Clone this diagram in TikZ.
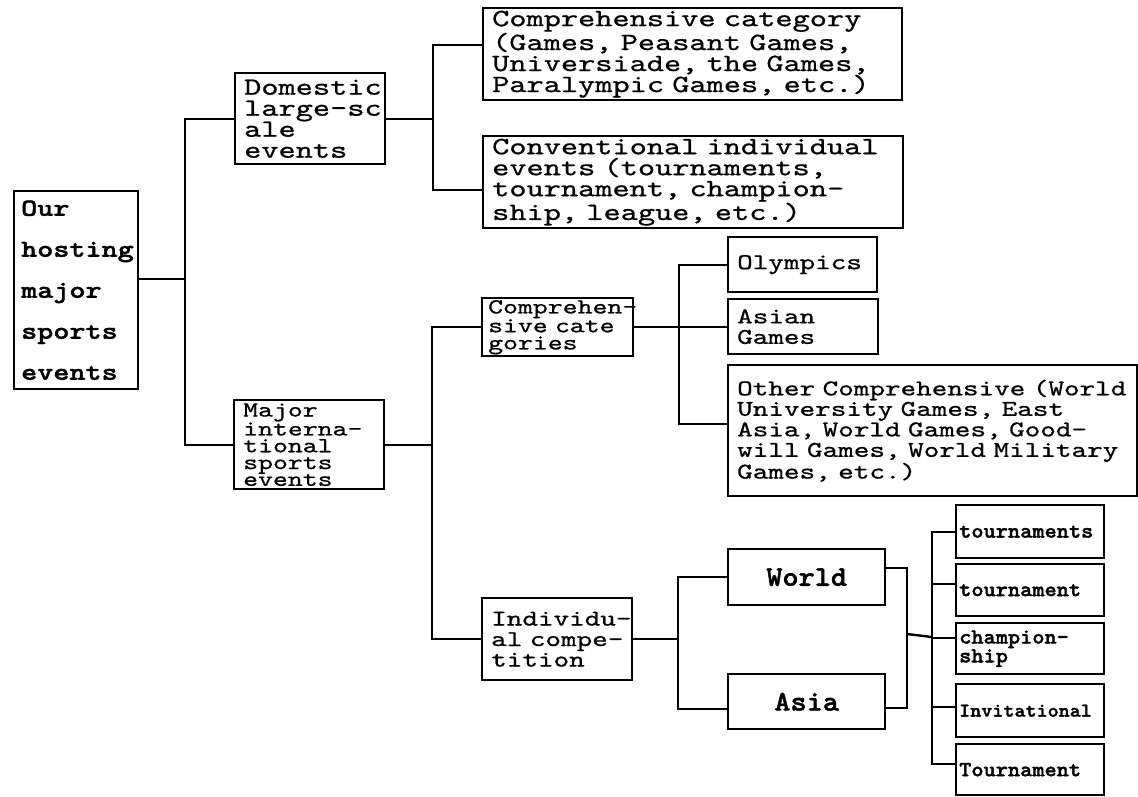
\documentclass[tikz,border=0pt]{standalone}
\usepackage{fontspec}
\newfontfamily\monoA[FakeStretch=1.32, FakeBold=0.8, BoldFont=lmmonolt10-bold.otf, BoldFeatures={FakeStretch=1.25, FakeBold=1.6}]{lmmono10-regular.otf}
\newfontfamily\monoB[FakeStretch=1.12, FakeBold=0.8, BoldFont=lmmonolt10-bold.otf, BoldFeatures={FakeStretch=1.08, FakeBold=1.6}]{lmmono10-regular.otf}
\protected\def\fixsp{\fontdimen2\font=\fontcharwd\font`a\fontdimen3\font=0pt\fontdimen4\font=0pt\relax}
\begin{document}
\lineskiplimit=-100pt
\begin{tikzpicture}[x=1pt,y=-1pt,
  bx/.style={draw, line width=2.4pt, anchor=north west, align=left, inner ysep=0pt, inner xsep=9pt},
  conn/.style={line width=2.4pt},
  fBig/.style={font=\monoA\fontsize{24.8}{21}\selectfont\fixsp},
  fRoot/.style={font=\monoA\bfseries\fontsize{24.5}{41}\selectfont\fixsp},
  fMid/.style={font=\monoA\fontsize{21.5}{17.2}\selectfont\fixsp},
  fMaj/.style={font=\monoA\fontsize{21.5}{16.8}\selectfont\fixsp},
  fOth/.style={font=\monoA\fontsize{22.5}{20.5}\selectfont\fixsp},
  fWA/.style={font=\monoB\bfseries\fontsize{28.5}{30}\selectfont\fixsp},
  fT/.style={font=\monoB\bfseries\fontsize{21.5}{14.5}\selectfont\fixsp},
  leaf/.style={bx, fT, inner xsep=3pt, minimum width=148, text width=142}
]
\useasboundingbox (0,0) rectangle (1138,796);

% level 0
\node[bx, fRoot, inner xsep=7pt, minimum width=124, minimum height=198, text width=110] (root) at (13,190)
  {\mbox{Our}\\\mbox{hosting}\\\mbox{major}\\\mbox{sports}\\\mbox{events}};

% level 1
\node[bx, fBig, minimum width=150, minimum height=91, text width=132] (dom) at (234,72)
  {\mbox{Domestic}\\\mbox{large-sc}\\\mbox{ale}\\\mbox{events}};
\node[bx, fMaj, minimum width=150, minimum height=89, text width=132] (major) at (233,399)
  {\mbox{Major}\\\mbox{interna-}\\\mbox{tional}\\\mbox{sports}\\\mbox{events}};

% level 2 (domestic)
\node[bx, fBig, minimum width=419, minimum height=92, text width=401] (cc) at (482,7)
  {\mbox{Comprehensive category}\\\mbox{(Games, Peasant Games,}\\\mbox{Universiade, the Games,}\\\mbox{Paralympic Games, etc.)}};
\node[bx, fBig, minimum width=420, minimum height=92, text width=402] (conv) at (482,135)
  {\mbox{Conventional individual}\\\mbox{events (tournaments,}\\\mbox{tournament, champion-}\\\mbox{ship, league, etc.)}};

% level 2 (international)
\node[bx, fMid, minimum width=151, minimum height=58, text width=139, inner xsep=6pt] (compcat) at (481,297)
  {\mbox{Comprehen-}\\\mbox{sive cate}\\\mbox{gories}};
\node[bx, fOth, minimum width=150, minimum height=82, text width=132] (indiv) at (481,597)
  {\mbox{Individu-}\\\mbox{al compe-}\\\mbox{tition}};

% level 3 (comprehensive)
\node[bx, fOth, minimum width=149, minimum height=55, text width=131] (oly) at (727,236) {\mbox{Olympics}};
\node[bx, fOth, minimum width=150, minimum height=55, text width=132] (ag) at (727,298) {\mbox{Asian}\\\mbox{Games}};
\node[bx, fOth, minimum width=409, minimum height=131, text width=391] (other) at (727,364)
  {\mbox{Other Comprehensive (World}\\\mbox{University Games, East}\\\mbox{Asia, World Games, Good-}\\\mbox{will Games, World Military}\\\mbox{Games, etc.)}};

% level 3 (individual)
\node[bx, fWA, align=center, minimum width=157, minimum height=56] (world) at (727,548) {World};
\node[bx, fWA, align=center, minimum width=157, minimum height=55] (asia) at (727,673) {Asia};

% level 4
\node[leaf, minimum height=53] (t1) at (955,504) {\mbox{tournaments}};
\node[leaf, minimum height=52] (t2) at (955,563) {\mbox{tournament}};
\node[leaf, minimum height=51] (t3) at (955,622) {\mbox{champion-}\\\mbox{ship}};
\node[leaf, minimum height=53, font=\monoB\bfseries\fontsize{19.5}{14}\selectfont] (t4) at (955,683) {\mbox{Invitational}};
\node[leaf, minimum height=51] (t5) at (955,743) {\mbox{Tournament}};

% junctions
\coordinate (J0) at (185,279);
\coordinate (J1a) at (433,45);
\coordinate (J1b) at (433,190);
\coordinate (J2) at (432,442);
\coordinate (J3) at (679,424);
\coordinate (J4) at (678,709);
\coordinate (J5a) at (907,568);
\coordinate (J5b) at (907,708);
\coordinate (J5m) at (907,634);
\coordinate (J6m) at (932,637);
\coordinate (K2) at (932,584);
\coordinate (K3) at (932,638);
\coordinate (K4) at (932,707);
\coordinate (K5) at (932,764);

% connectors
\draw[conn] (root.east |- J0) -- (J0);
\draw[conn] (dom.west) -- (dom.west -| J0) -- (major.west -| J0) -- (major.west);

\draw[conn] (dom.east) -- (dom.east -| J1a);
\draw[conn] (cc.west |- J1a) -- (J1a) -- (J1b) -- (conv.west |- J1b);

\draw[conn] (major.east) -- (major.east -| J2);
\draw[conn] (compcat.west) -- (compcat.west -| J2) -- (indiv.west -| J2) -- (indiv.west);

\draw[conn] (compcat.east) -- (ag.west |- compcat.east);
\draw[conn] (oly.west) -- (oly.west -| J3) -- (J3) -- (other.west |- J3);

\draw[conn] (indiv.east) -- (indiv.east -| J4);
\draw[conn] (world.west) -- (world.west -| J4) -- (J4) -- (asia.west |- J4);

\draw[conn] (world.east |- J5a) -- (J5a) -- (J5b) -- (asia.east |- J5b);
\draw[conn] (J5m) -- (J6m);

\draw[conn] (t1.west) -- (t1.west -| K5) -- (K5) -- (t5.west |- K5);
\draw[conn] (K2) -- (t2.west |- K2);
\draw[conn] (K3) -- (t3.west |- K3);
\draw[conn] (K4) -- (t4.west |- K4);
\end{tikzpicture}
\end{document}
